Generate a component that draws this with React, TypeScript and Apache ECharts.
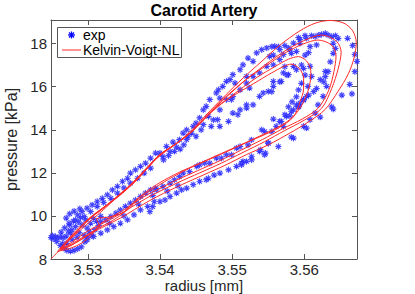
import React, { useEffect, useRef } from "react";
import * as echarts from "echarts";

const FONT = "'Liberation Sans', Arial, Helvetica, sans-serif";
const X_MIN = 3.5249;
const X_MAX = 3.5673;
const Y_MIN = 8;
const Y_MAX = 19.1;
const xTicks = [3.53, 3.54, 3.55, 3.56];
const yTicks = [8, 10, 12, 14, 16, 18];

// experimental points [radius mm, pressure kPa]
const expLowerLeft: number[][] = [
  [3.5249, 9.0], [3.5252, 8.93], [3.5255, 9.04], [3.5258, 8.97], [3.5262, 9.03], [3.5266, 8.98], [3.527, 9.06], [3.5251, 9.08],
  [3.5257, 8.81], [3.5262, 8.62], [3.5267, 8.5], [3.5271, 8.4], [3.5276, 8.36], [3.5281, 8.4], [3.5286, 8.47], [3.5291, 8.56],
  [3.5265, 8.72], [3.5271, 8.73], [3.5276, 9.2], [3.5278, 9.35], [3.5283, 9.5], [3.5288, 9.22], [3.5292, 9.58], [3.5295, 9.1],
  [3.5299, 9.43], [3.5302, 9.26], [3.5304, 9.66], [3.5297, 9.82], [3.5308, 9.89], [3.531, 9.36], [3.5315, 9.55], [3.5312, 9.75],
  [3.5318, 9.98], [3.5285, 9.02], [3.5273, 9.3], [3.5275, 9.58], [3.528, 9.76], [3.529, 9.92], [3.5275, 10.1], [3.5281, 10.22],
  [3.5289, 10.33], [3.527, 9.9], [3.5296, 8.8], [3.53, 9.0], [3.5306, 9.08], [3.5278, 8.9], [3.5263, 9.25], [3.5268, 9.45],
];
const expUpperBand: number[][] = [
  [3.5274, 9.66], [3.5283, 9.82], [3.5286, 10.05], [3.5292, 10.2], [3.5299, 10.36], [3.5306, 10.51], [3.5313, 10.67], [3.532, 10.82],
  [3.5327, 10.98], [3.5334, 11.21], [3.5341, 11.37], [3.5348, 11.6], [3.5355, 11.75], [3.5359, 11.99], [3.5366, 12.14], [3.5373, 12.3],
  [3.538, 12.45], [3.5387, 12.68], [3.5394, 12.92], [3.5287, 9.72], [3.5295, 9.97], [3.5304, 10.2], [3.5313, 10.44], [3.5322, 10.62],
  [3.5332, 10.82], [3.5341, 11.06], [3.535, 11.3], [3.5359, 11.52], [3.5369, 11.75], [3.5378, 11.99], [3.5387, 12.22],
  [3.54, 12.92], [3.5404, 12.75], [3.5409, 13.23], [3.5414, 12.99], [3.5418, 13.43], [3.5423, 13.2], [3.5427, 13.54], [3.5432, 13.85],
  [3.5437, 14.0], [3.5439, 13.69], [3.5446, 14.16], [3.545, 14.31], [3.5455, 14.55], [3.5437, 13.54], [3.5444, 13.84], [3.545, 13.69],
  [3.546, 14.24], [3.5467, 14.62], [3.5474, 14.46], [3.5405, 12.6], [3.5412, 12.8], [3.542, 13.0], [3.5428, 13.1], [3.5433, 13.3],
  [3.546, 14.93], [3.5464, 15.09], [3.5469, 15.4], [3.5478, 15.71], [3.5481, 15.86], [3.5483, 15.47], [3.5487, 16.02], [3.5492, 16.25],
  [3.5497, 16.33], [3.5501, 16.56], [3.5504, 16.17], [3.5483, 14.93], [3.5492, 15.4], [3.5501, 15.55], [3.5511, 15.86],
  [3.5511, 16.79], [3.5515, 17.02], [3.552, 16.48], [3.5522, 17.33], [3.5529, 17.18], [3.5534, 17.57], [3.5541, 17.72], [3.5548, 17.8],
  [3.5552, 17.41], [3.5559, 17.88], [3.5566, 17.72], [3.5571, 17.49], [3.5578, 17.8], [3.5585, 18.03], [3.5589, 17.64], [3.5594, 18.19],
  [3.5601, 18.37], [3.552, 16.17], [3.5529, 16.48], [3.5538, 16.64], [3.5548, 16.95], [3.5557, 17.02], [3.5566, 17.26],
];
const expTop: number[][] = [
  [3.5555, 17.86], [3.5564, 17.86], [3.5557, 17.47], [3.5573, 17.91], [3.558, 17.71], [3.5582, 17.55], [3.5592, 18.28], [3.5594, 18.02],
  [3.5601, 17.47], [3.5603, 18.25], [3.5606, 17.58], [3.561, 18.37], [3.5615, 18.33], [3.5608, 17.86], [3.5617, 17.94], [3.562, 18.4],
  [3.5624, 18.43], [3.5629, 18.48], [3.5633, 18.4], [3.5638, 18.33], [3.5643, 18.37], [3.5647, 18.25], [3.564, 18.02], [3.5643, 17.78],
  [3.564, 17.55], [3.566, 18.25], [3.5667, 17.91], [3.567, 17.5], [3.567, 16.7], [3.5663, 16.11], [3.5652, 15.61], [3.5638, 15.07],
  [3.5673, 17.18], [3.5666, 15.67],
];
const expRightDesc: number[][] = [
  [3.5636, 17.16], [3.5633, 16.7], [3.5629, 16.47], [3.5627, 16.23], [3.5617, 15.92], [3.5613, 15.77], [3.5606, 15.61], [3.5599, 15.38],
  [3.5592, 15.07], [3.5596, 17.01], [3.5599, 16.85], [3.5601, 16.54], [3.5596, 16.16], [3.5592, 15.85], [3.5589, 15.53], [3.5583, 15.3],
  [3.5578, 15.07], [3.5608, 16.95], [3.561, 16.48], [3.5605, 16.02], [3.5603, 15.55], [3.5594, 15.24], [3.5585, 14.93], [3.5575, 14.62],
  [3.5568, 14.39], [3.5561, 14.16], [3.5555, 13.92], [3.5622, 16.33], [3.5629, 16.71], [3.5631, 16.02], [3.5626, 15.55], [3.5619, 15.16],
  [3.5615, 14.78], [3.5608, 14.47], [3.5599, 14.16],
];
const expInner: number[][] = [
  [3.5457, 14.0], [3.5471, 14.16], [3.548, 14.47], [3.5483, 14.16], [3.5495, 14.39], [3.5501, 14.78], [3.5508, 14.7], [3.5511, 14.93],
  [3.552, 15.16], [3.552, 15.01], [3.5538, 15.55], [3.5543, 15.71], [3.555, 15.78], [3.5499, 15.4], [3.5524, 15.94], [3.5557, 16.02],
  [3.5557, 16.25], [3.5568, 16.25], [3.5571, 16.64], [3.5578, 16.56], [3.5585, 16.95], [3.5589, 16.79], [3.5573, 16.93], [3.5576, 16.54],
  [3.5566, 16.23], [3.5555, 15.77],
];
const expLowerRight: number[][] = [
  [3.5529, 15.16], [3.5557, 14.5], [3.5566, 14.39], [3.5541, 14.0], [3.5545, 13.92], [3.5571, 14.16], [3.5573, 14.7], [3.558, 14.65],
  [3.5582, 14.85], [3.5589, 15.16], [3.5592, 15.08], [3.5599, 15.4], [3.5527, 13.53], [3.555, 13.38], [3.5539, 13.07], [3.5546, 12.92],
  [3.5527, 12.76], [3.5527, 12.6], [3.5564, 13.22], [3.5585, 13.61], [3.5603, 14.08], [3.5622, 14.59], [3.5582, 13.66], [3.564, 14.96],
  [3.5538, 13.0], [3.5545, 12.84], [3.5515, 12.53], [3.5513, 12.37], [3.555, 13.38],
];
const expLowerBand: number[][] = [
  [3.5318, 9.74], [3.5325, 9.82], [3.5332, 9.97], [3.5339, 10.13], [3.5345, 10.28], [3.5352, 10.44], [3.5359, 10.59], [3.5366, 10.74],
  [3.5373, 10.9], [3.538, 11.06], [3.5387, 11.21], [3.5394, 11.29], [3.5299, 8.89], [3.5308, 9.04], [3.5318, 9.2], [3.5327, 9.35],
  [3.5336, 9.5], [3.5345, 9.66], [3.5355, 9.82], [3.5364, 10.05], [3.5373, 10.28], [3.5383, 10.44], [3.5392, 10.67],
  [3.5395, 11.21], [3.5404, 11.37], [3.5414, 11.52], [3.542, 11.68], [3.5427, 11.83], [3.5432, 11.99], [3.5441, 12.06], [3.5451, 12.3],
  [3.5455, 12.37], [3.5462, 12.45], [3.5469, 12.45], [3.5478, 12.68], [3.5485, 12.68], [3.5492, 12.84], [3.5499, 12.84], [3.5506, 13.15],
  [3.5511, 13.22], [3.5522, 13.3], [3.5386, 10.2], [3.539, 10.43], [3.54, 10.67], [3.5407, 10.74], [3.5414, 10.9], [3.5423, 11.06],
  [3.543, 11.21], [3.5437, 11.29], [3.5446, 11.45], [3.5455, 11.6], [3.5464, 11.68], [3.5467, 11.75], [3.5475, 11.9], [3.5483, 11.99],
  [3.5495, 12.14], [3.5506, 12.3], [3.5513, 12.45], [3.552, 12.53], [3.533, 9.65], [3.535, 10.0], [3.537, 10.55], [3.539, 10.95],
  [3.541, 11.15], [3.5425, 11.4],
];

// model loops [radius mm, pressure kPa]
const modelLoop1: number[][] = [
  [3.5249, 8.0], [3.5262, 8.45], [3.5275, 8.9], [3.529, 9.35], [3.5305, 9.8], [3.5322, 10.3], [3.534, 10.85], [3.536, 11.45],
  [3.5378, 12.05], [3.5395, 12.65], [3.5412, 13.1], [3.543, 13.55], [3.545, 14.2], [3.547, 14.9], [3.5492, 15.65], [3.5515, 16.4],
  [3.554, 17.15], [3.5565, 17.9], [3.5594, 18.6], [3.5615, 18.95], [3.5636, 19.08], [3.5655, 18.95], [3.5667, 18.6], [3.5672, 18.05],
  [3.5669, 17.35], [3.5661, 16.6], [3.5647, 15.8], [3.5629, 14.95], [3.5605, 14.35], [3.558, 13.85], [3.555, 13.3], [3.552, 12.85],
  [3.549, 12.35], [3.546, 11.9], [3.543, 11.45], [3.5405, 11.05], [3.5385, 10.7], [3.5365, 10.3], [3.5345, 9.9], [3.5325, 9.55],
  [3.5305, 9.2], [3.529, 8.88], [3.5275, 8.6], [3.5262, 8.4],
];
const modelLoop2: number[][] = [
  [3.5272, 8.8], [3.5287, 9.35], [3.5305, 9.95], [3.5325, 10.45], [3.5345, 11.0], [3.5366, 11.6], [3.5385, 12.3], [3.54, 12.85],
  [3.542, 13.3], [3.5442, 13.85], [3.5465, 14.65], [3.549, 15.5], [3.5518, 16.3], [3.5545, 17.0], [3.5575, 17.7], [3.56, 18.15],
  [3.5624, 18.4], [3.5645, 18.1], [3.5651, 17.6], [3.5647, 16.85], [3.5638, 15.92], [3.5624, 15.0], [3.56, 14.45], [3.5572, 13.95],
  [3.5545, 13.45], [3.5515, 12.95], [3.5485, 12.45], [3.5455, 12.0], [3.5425, 11.55], [3.54, 11.15], [3.538, 10.8], [3.536, 10.4],
  [3.534, 10.0], [3.532, 9.65], [3.53, 9.3], [3.5285, 8.95], [3.5272, 8.65], [3.5262, 8.45],
];
const modelLoop3: number[][] = [
  [3.5274, 8.9], [3.529, 9.45], [3.5308, 10.05], [3.5328, 10.55], [3.5348, 11.05], [3.5368, 11.7], [3.5386, 12.35], [3.5402, 12.9],
  [3.5422, 13.35], [3.5445, 13.95], [3.5468, 14.75], [3.5493, 15.55], [3.552, 16.35], [3.5548, 17.0], [3.5575, 17.6], [3.5598, 17.98],
  [3.5619, 18.17], [3.5637, 17.95], [3.5644, 17.45], [3.5641, 16.7], [3.5634, 15.85], [3.5619, 15.0], [3.5597, 14.5], [3.557, 14.05],
  [3.5542, 13.55], [3.5512, 13.05], [3.5482, 12.55], [3.5452, 12.1], [3.5422, 11.65], [3.5398, 11.25], [3.5378, 10.9], [3.5358, 10.45],
  [3.5338, 10.05], [3.5318, 9.65], [3.5305, 9.1], [3.5292, 8.75], [3.5276, 8.5], [3.5258, 8.35],
];
const modelLoop4: number[][] = [
  [3.5268, 8.75], [3.5283, 9.3], [3.5302, 9.9], [3.5322, 10.4], [3.5342, 10.95], [3.5362, 11.55], [3.5382, 12.25], [3.5398, 12.8],
  [3.5418, 13.25], [3.544, 13.8], [3.5462, 14.55], [3.5485, 15.2], [3.551, 15.85], [3.5535, 16.45], [3.556, 16.95], [3.5578, 17.28],
  [3.5592, 17.4], [3.5603, 17.2], [3.5609, 16.75], [3.5608, 16.2], [3.5603, 15.6], [3.5592, 14.9], [3.5575, 14.35], [3.555, 13.9],
  [3.5525, 13.5], [3.55, 13.1], [3.547, 12.65], [3.544, 12.2], [3.5412, 11.7], [3.539, 11.25], [3.537, 10.8], [3.5352, 10.2],
  [3.533, 9.95], [3.5312, 9.85], [3.5316, 9.55], [3.5305, 9.2], [3.529, 8.9], [3.5275, 8.6], [3.5262, 8.45],
];
const modelLoop5: number[][] = [
  [3.5272, 8.85], [3.5288, 9.4], [3.5306, 9.95], [3.5325, 10.45], [3.5345, 11.0], [3.5365, 11.6], [3.5384, 12.3], [3.54, 12.85],
  [3.542, 13.3], [3.5442, 13.85], [3.5462, 14.5], [3.548, 15.1], [3.5505, 15.65], [3.553, 16.15], [3.5555, 16.65], [3.5572, 16.95],
  [3.5582, 17.05], [3.5593, 16.85], [3.5599, 16.4], [3.5599, 15.9], [3.5594, 15.3], [3.5585, 14.6], [3.5565, 14.1], [3.554, 13.7],
  [3.5512, 13.3], [3.5485, 12.9], [3.5455, 12.45], [3.5425, 12.0], [3.54, 11.55], [3.538, 11.1], [3.5362, 10.6], [3.5348, 10.1],
  [3.533, 9.7], [3.5315, 9.45], [3.53, 9.15], [3.5285, 8.85], [3.5272, 8.6], [3.5262, 8.5],
];

const expData = [
  ...expLowerLeft, ...expUpperBand, ...expTop, ...expRightDesc, ...expInner, ...expLowerRight, ...expLowerBand,
];
const modelData = [...modelLoop1, ...modelLoop2, ...modelLoop3, ...modelLoop4, ...modelLoop5];

const ASTERISK =
  "path://M-1.2,-10L1.2,-10L1.2,10L-1.2,10Z M-10,-1.2L10,-1.2L10,1.2L-10,1.2Z M-7.9,-6.2L-6.2,-7.9L7.9,6.2L6.2,7.9Z M6.2,-7.9L7.9,-6.2L-6.2,7.9L-7.9,6.2Z";

const FRAME = "#555555";
const TEXT = "#262626";
const BLUE = "#0000ff";
const RED = "#ff2a2a";

function makeOption(): any {
  const frameAxis = {
    axisLine: { show: true, onZero: false, lineStyle: { color: FRAME, width: 1 } },
    splitLine: { show: false },
  };
  return {
    animation: false,
    backgroundColor: "#ffffff",
    grid: { left: 51, right: 58, top: 20, bottom: 35, containLabel: false, outerBoundsMode: "none" },
    xAxis: [
      {
        type: "value",
        min: X_MIN,
        max: X_MAX,
        position: "bottom",
        ...frameAxis,
        axisTick: { show: true, inside: true, length: 5, customValues: xTicks, lineStyle: { color: FRAME } },
        axisLabel: {
          show: true,
          customValues: xTicks,
          formatter: (v: number) => v.toFixed(2),
          fontSize: 15,
          color: TEXT,
          fontFamily: FONT,
          margin: 3,
        },
        name: "radius [mm]",
        nameLocation: "middle",
        nameGap: 19,
        nameMoveOverlap: false,
        nameTextStyle: { fontSize: 15, color: TEXT, fontFamily: FONT },
      },
      {
        type: "value",
        min: X_MIN,
        max: X_MAX,
        position: "top",
        ...frameAxis,
        axisTick: { show: true, inside: true, length: 5, customValues: xTicks, lineStyle: { color: FRAME } },
        axisLabel: { show: false },
      },
    ],
    yAxis: [
      {
        type: "value",
        min: Y_MIN,
        max: Y_MAX,
        position: "left",
        ...frameAxis,
        axisTick: { show: true, inside: true, length: 5, customValues: yTicks, lineStyle: { color: FRAME } },
        axisLabel: {
          show: true,
          customValues: yTicks,
          fontSize: 15,
          color: TEXT,
          fontFamily: FONT,
          margin: 4,
        },
        name: "pressure [kPa]",
        nameLocation: "middle",
        nameGap: 22,
        nameTextStyle: { fontSize: 16, color: TEXT, fontFamily: FONT },
      },
      {
        type: "value",
        min: Y_MIN,
        max: Y_MAX,
        position: "right",
        ...frameAxis,
        axisTick: { show: true, inside: true, length: 5, customValues: yTicks, lineStyle: { color: FRAME } },
        axisLabel: { show: false },
      },
    ],
    graphic: [
      {
        type: "text",
        x: 204,
        y: 10,
        z: 100,
        style: {
          text: "Carotid Artery",
          fontSize: 16,
          fontWeight: "bold",
          fontFamily: FONT,
          fill: "#000",
          align: "center",
          verticalAlign: "middle",
        },
      },
      {
        type: "rect",
        z: 100,
        shape: { x: 57.5, y: 27.5, width: 124, height: 30 },
        style: { fill: "#fff", stroke: FRAME, lineWidth: 1 },
      },
      { type: "line", z: 101, shape: { x1: 68, y1: 35, x2: 75, y2: 35 }, style: { stroke: BLUE, lineWidth: 1.3 } },
      { type: "line", z: 101, shape: { x1: 71.5, y1: 31.5, x2: 71.5, y2: 38.5 }, style: { stroke: BLUE, lineWidth: 1.3 } },
      { type: "line", z: 101, shape: { x1: 69, y1: 32.5, x2: 74, y2: 37.5 }, style: { stroke: BLUE, lineWidth: 1.3 } },
      { type: "line", z: 101, shape: { x1: 74, y1: 32.5, x2: 69, y2: 37.5 }, style: { stroke: BLUE, lineWidth: 1.3 } },
      {
        type: "text",
        x: 83,
        y: 35,
        z: 101,
        style: { text: "exp", fontSize: 14, fontFamily: FONT, fill: "#000", verticalAlign: "middle" },
      },
      { type: "line", z: 101, shape: { x1: 62, y1: 50, x2: 81, y2: 50 }, style: { stroke: RED, lineWidth: 1 } },
      {
        type: "text",
        x: 83,
        y: 50,
        z: 101,
        style: { text: "Kelvin-Voigt-NL", fontSize: 14, fontFamily: FONT, fill: "#000", verticalAlign: "middle" },
      },
    ],
    series: [
      {
        name: "exp",
        type: "scatter",
        xAxisIndex: 0,
        yAxisIndex: 0,
        data: expData,
        symbol: ASTERISK,
        symbolSize: 6,
        itemStyle: { color: BLUE, borderColor: "rgba(90,90,255,0.4)", borderWidth: 0.8, opacity: 1 },
        z: 2,
        silent: true,
      },
      {
        name: "Kelvin-Voigt-NL",
        type: "line",
        xAxisIndex: 0,
        yAxisIndex: 0,
        data: modelData,
        showSymbol: false,
        symbol: "none",
        smooth: 0.3,
        clip: true,
        lineStyle: { color: RED, width: 1 },
        z: 3,
        silent: true,
      },
    ],
  };
}

export default function App() {
  const ref = useRef<HTMLDivElement>(null);
  useEffect(() => {
    if (!ref.current) return;
    const chart = echarts.init(ref.current, null, { renderer: "svg" });
    chart.setOption(makeOption());
    return () => chart.dispose();
  }, []);
  return (
    <div
      ref={ref}
      style={{ position: "absolute", left: 0, top: 0, width: 415, height: 294, background: "#fff" }}
    />
  );
}
